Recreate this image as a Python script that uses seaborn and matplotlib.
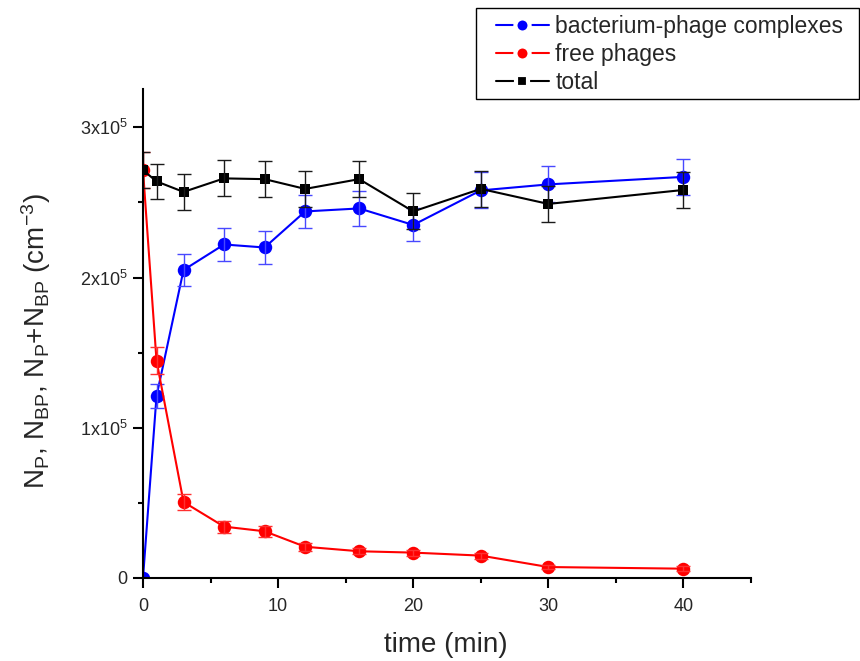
import numpy as np
import pandas as pd
import matplotlib
matplotlib.use("Agg")
import matplotlib.pyplot as plt
import seaborn as sns
from matplotlib.lines import Line2D
from matplotlib.patches import Rectangle
from matplotlib.ticker import FixedLocator, MultipleLocator

# ---------------- data ----------------
time = [0, 1, 3, 6, 9, 12, 16, 20, 25, 30, 40]
complexes = [0, 1.21e5, 2.05e5, 2.22e5, 2.20e5, 2.44e5, 2.46e5, 2.35e5, 2.58e5, 2.62e5, 2.67e5]
complexes_err = [0, 0.08e5, 0.105e5, 0.107e5, 0.11e5, 0.11e5, 0.115e5, 0.11e5, 0.12e5, 0.12e5, 0.12e5]
free = [2.715e5, 1.447e5, 0.506e5, 0.342e5, 0.311e5, 0.208e5, 0.178e5, 0.169e5, 0.149e5, 0.073e5, 0.062e5]
free_err = [0.12e5, 0.088e5, 0.052e5, 0.04e5, 0.035e5, 0.027e5, 0.02e5, 0.02e5, 0.02e5, 0.015e5, 0.015e5]
total = [2.715e5, 2.64e5, 2.57e5, 2.66e5, 2.655e5, 2.59e5, 2.655e5, 2.44e5, 2.59e5, 2.49e5, 2.583e5]
total_err = [0.12e5, 0.118e5, 0.118e5, 0.12e5, 0.12e5, 0.12e5, 0.12e5, 0.12e5, 0.12e5, 0.12e5, 0.12e5]

series_names = ["bacterium-phage complexes", "free phages", "total"]
x_ticks = [0, 10, 20, 30, 40]
y_ticks = [0, 1e5, 2e5, 3e5]
y_tick_labels = ["0", r"1x10$^5$", r"2x10$^5$", r"3x10$^5$"]

# ---------------- style ----------------
sns.set_style("ticks")
plt.rcParams["font.family"] = ["Liberation Sans", "DejaVu Sans"]
plt.rcParams["mathtext.fontset"] = "custom"
plt.rcParams["mathtext.rm"] = "Liberation Sans"
plt.rcParams["mathtext.it"] = "Liberation Sans:italic"
plt.rcParams["mathtext.default"] = "regular"

fig = plt.figure(figsize=(8.6, 6.61), dpi=100)
ax = fig.add_axes([143 / 860, 1 - 578 / 661, (751 - 143) / 860, (578 - 89) / 661])

specs = [
    (complexes, complexes_err, "#0000FF", "o", 9.7, "#4848FF"),
    (free, free_err, "#FF0000", "o", 9.7, "#FF3030"),
    (total, total_err, "#000000", "s", 6.5, "#1a1a1a"),
]

for (vals, err, col, mk, ms, ecol), name in zip(specs, series_names):
    df = pd.DataFrame({"time": time, "value": vals})
    sns.lineplot(data=df, x="time", y="value", color=col, marker=mk,
                 linewidth=1.5, ax=ax, legend=False, errorbar=None)
    ln = ax.lines[-1]
    ln.set_markersize(ms)
    ln.set_markeredgewidth(0)
    ln.set_markerfacecolor(col)
    ax.errorbar(time, vals, yerr=err, fmt="none", ecolor=ecol,
                elinewidth=1.0, capsize=5, capthick=1.0)

ax.set_xlim(0, 45)
ax.set_ylim(0, 3.255e5)

for s in ["top", "right"]:
    ax.spines[s].set_visible(False)
for s in ["left", "bottom"]:
    ax.spines[s].set_linewidth(1.5)
    ax.spines[s].set_color("black")

ax.xaxis.set_major_locator(FixedLocator(x_ticks))
ax.xaxis.set_minor_locator(MultipleLocator(5))
ax.yaxis.set_major_locator(FixedLocator(y_ticks))
ax.yaxis.set_minor_locator(MultipleLocator(0.5e5))
ax.set_yticklabels(y_tick_labels)
ax.tick_params(which="major", direction="out", length=7.2, width=1.5,
               labelsize=13, color="black")
ax.tick_params(which="minor", direction="out", length=3.6, width=1.5, color="black")
ax.tick_params(axis="x", which="major", pad=7)
ax.tick_params(axis="y", which="major", pad=4)

ax.set_xlabel("time (min)", fontsize=20, va="center")
ax.xaxis.set_label_coords((446 - 143) / 608, (578 - 645) / 489)
ax.set_ylabel(r"N$_P$, N$_{BP}$, N$_P$+N$_{BP}$ (cm$^{-3}$)", fontsize=20, va="center")
ax.yaxis.set_label_coords((36 - 143) / 608, (578 - 341) / 489)

# legend frame drawn as a figure rectangle
fig.patches.append(Rectangle((476 / 860, 1 - 99 / 661), (859 - 476) / 860, 91 / 661,
                             transform=fig.transFigure, fill=False,
                             edgecolor="black", linewidth=1.0))

handles = [
    Line2D([], [], color="#0000FF", marker="o", markersize=10.2, lw=1.5,
           markerfacecolor="#0000FF", markeredgecolor="white", markeredgewidth=3),
    Line2D([], [], color="#FF0000", marker="o", markersize=10.2, lw=1.5,
           markerfacecolor="#FF0000", markeredgecolor="white", markeredgewidth=3),
    Line2D([], [], color="#000000", marker="s", markersize=8, lw=1.5,
           markerfacecolor="#000000", markeredgecolor="white", markeredgewidth=3),
]
leg = fig.legend(handles, series_names, loc="upper left",
                 bbox_to_anchor=(496 / 860, 1 - 15 / 661),
                 fontsize=16.5, frameon=False, handlelength=2.31,
                 handletextpad=0.28, labelspacing=0.21, borderpad=0,
                 borderaxespad=0)

fig.savefig("out.png", dpi=100)
